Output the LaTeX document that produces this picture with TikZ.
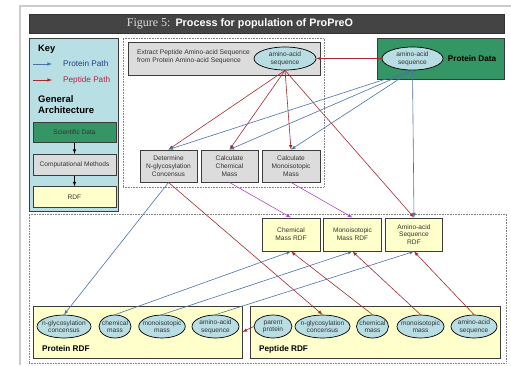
\documentclass[tikz,border=0pt]{standalone}
\usepackage{fontspec}
\setmainfont{Liberation Sans}
\newfontfamily\figserif{Liberation Serif}
\usetikzlibrary{arrows}
\usetikzlibrary{shapes}
\usetikzlibrary{positioning}
\definecolor{titlegray}{RGB}{68,68,68}
\definecolor{keyblue}{RGB}{184,224,228}
\definecolor{ellblue}{RGB}{184,222,228}
\definecolor{datagreen}{RGB}{52,150,100}
\definecolor{boxgray}{RGB}{220,220,220}
\definecolor{rdfyellow}{RGB}{255,255,204}
\definecolor{protblue}{RGB}{74,114,166}
\definecolor{peptred}{RGB}{165,40,45}
\definecolor{calcpurple}{RGB}{180,70,200}
\definecolor{edgegray}{RGB}{60,60,60}
\definecolor{labelblue}{RGB}{42,57,144}
\definecolor{labelred}{RGB}{190,30,70}

\begin{document}
\begin{tikzpicture}[x=1pt,y=-1pt]
            \tikzstyle{panel}=[draw=edgegray,line width=0.9pt,inner sep=0pt]
            \tikzstyle{dot box}=[draw=gray,densely dotted,line width=0.6pt,inner sep=0pt]
            \tikzstyle{proc node}=[panel,fill=boxgray,align=center,text=black!80,font=\fontsize{6.6}{7.8}\selectfont,minimum height=32pt]
            \tikzstyle{rdf node}=[proc node,fill=rdfyellow,minimum height=33pt]
            \tikzstyle{arch node}=[proc node,minimum width=83pt,minimum height=21pt]
            \tikzstyle{ell node}=[draw=black,ellipse,fill=ellblue,line width=0.7pt,inner sep=-3pt,align=center,text=black!80,font=\fontsize{6.6}{7.6}\selectfont,minimum height=23pt]
            \tikzstyle{bold label}=[font=\bfseries\fontsize{8.2}{10}\selectfont,inner sep=0pt]
            \tikzstyle{prot}=[draw=protblue,line width=0.6pt,-latex]
            \tikzstyle{pept}=[draw=peptred,line width=0.6pt,-latex]
            \tikzstyle{calc}=[draw=calcpurple,line width=0.6pt,-latex]

            \useasboundingbox (0,0) rectangle (511,365);
            \draw[black!20,line width=1.2pt] (20,365) -- (20,6) -- (511,6);

            % title bar
            \node[panel,fill=titlegray,draw=black!80,minimum width=475pt,minimum height=19pt] (TB) at (266.5,23.5) {};
            \node[text=white,inner sep=0pt] (TT) at (240,24) {{\figserif\fontsize{12}{12}\selectfont\color{black!12}Figure 5:}\hspace{5pt}{\bfseries\fontsize{10.8}{12}\selectfont Process for population of ProPreO}};

            % key
            \node[panel,fill=keyblue,minimum width=89pt,minimum height=173pt] (KEY) at (73.5,124.5) {};
            \node[anchor=west,font=\bfseries\fontsize{9.3}{11}\selectfont,inner sep=0pt] (KT) at (38,49) {Key};
            \coordinate (KPA) at (33,64);
            \coordinate (KPB) at (52,64);
            \coordinate (KEA) at (33,80);
            \coordinate (KEB) at (52,80);
            \draw[prot] (KPA) -- (KPB);
            \draw[pept] (KEA) -- (KEB);
            \node[anchor=west,text=labelblue,font=\fontsize{8.2}{10}\selectfont,inner sep=0pt] (KPT) at (63,64) {Protein Path};
            \node[anchor=west,text=labelred,font=\fontsize{8.2}{10}\selectfont,inner sep=0pt] (KET) at (63,80) {Peptide Path};
            \node[anchor=west,align=left,font=\bfseries\fontsize{9.5}{11}\selectfont,inner sep=0pt] (GA) at (38,104.5) {General\\Architecture};
            \node[arch node,fill=datagreen,minimum height=20pt] (SD) at (74.5,132.5) {Scientific Data};
            \node[arch node] (CM) [below=11pt of SD] {Computational Methods};
            \node[arch node,fill=rdfyellow] (RDF) [below=10.5pt of CM] {RDF};
            \draw[-latex,black,line width=0.6pt] (SD) -- (CM);
            \draw[-latex,black,line width=0.6pt] (CM) -- (RDF);

            % computation
            \node[dot box,minimum width=201pt,minimum height=149pt] (CB) at (223.5,112.5) {};
            \node[panel,fill=boxgray,minimum width=192pt,minimum height=33pt] (EX) at (224,58.5) {};
            \node[align=left,text=black!80,font=\fontsize{6.7}{7.9}\selectfont,inner sep=0pt] (EXT) at (193.5,57) {Extract Peptide Amino-acid Sequence\\from Protein Amino-acid Sequence};
            \node[ell node,minimum width=62pt] (EXA) at (285,58.5) {amino-acid\\sequence};
            \node[proc node,minimum width=57pt] (DNC) at (168.5,166) {Determine\\N-glycosylation\\Concensus};
            \node[proc node,minimum width=57pt] (CCM) at (229.5,166) {Calculate\\Chemical\\Mass};
            \node[proc node,minimum width=58pt] (CMM) at (291,166) {Calculate\\Monoisotopic\\Mass};

            % protein data
            \node[panel,fill=datagreen,minimum width=127pt,minimum height=41pt] (PD) at (440.5,58.5) {};
            \node[ell node,minimum width=61pt] (PDA) at (412.5,58.5) {amino-acid\\sequence};
            \node[bold label] (PDT) at (472,58.5) {Protein Data};

            % rdf
            \node[dot box,minimum width=477pt,minimum height=149pt] (RB) at (267.5,288.5) {};
            \node[rdf node,minimum width=58pt] (CMR) at (291,234.5) {Chemical\\Mass RDF};
            \node[rdf node,minimum width=58pt] (MMR) at (352.5,234.5) {Monoisotopic\\Mass RDF};
            \node[rdf node,minimum width=57pt] (ASR) at (414,234.5) {Amino-acid\\Sequence\\RDF};

            \node[panel,fill=rdfyellow,minimum width=209pt,minimum height=52pt] (PRR) at (137.5,332) {};
            \node[bold label,anchor=west] (PRT) at (42,349) {Protein RDF};
            \node[ell node,minimum width=54pt] (PNG) at (64,326.5) {n-glycosylation\\concensus};
            \node[ell node,minimum width=32pt] (PCM) at (115,326.5) {chemical\\mass};
            \node[ell node,minimum width=46pt] (PMM) at (162,326.5) {monoisotopic\\mass};
            \node[ell node,minimum width=47pt] (PAS) at (215.5,326.5) {amino-acid\\sequence};

            \node[panel,fill=rdfyellow,minimum width=250pt,minimum height=52pt] (PER) at (375,332) {};
            \node[bold label,anchor=west] (PET) at (259,349) {Peptide RDF};
            \node[ell node,minimum width=38pt] (EPP) at (273,326.5) {parent\\protein};
            \node[ell node,minimum width=55pt] (ENG) at (322.5,326.5) {n-glycosylation\\concensus};
            \node[ell node,minimum width=32pt] (ECM) at (372.5,326.5) {chemical\\mass};
            \node[ell node,minimum width=47pt] (EMM) at (420.5,326.5) {monoisotopic\\mass};
            \node[ell node,minimum width=46pt] (EAS) at (474,326.5) {amino-acid\\sequence};

            % peptide path
            \draw[pept] (PDA) -- (EXA);
            \draw[pept] (EXA.south) -- (DNC.north);
            \draw[pept] (EXA.south) -- (CCM.north);
            \draw[pept] (EXA.south) -- (CMM.north);
            \draw[pept] (EXA.south) -- (ASR.north);
            \draw[pept] (DNC.south) -- (ENG.north);
            \draw[pept] (ECM.north) -- (CMR.south);
            \draw[pept] (EMM.north) -- (MMR.south);
            \draw[pept] (EAS.north) -- (ASR.south);
            \draw[pept] (EPP.west) -- (PRR.east);

            % protein path
            \draw[prot] (PDA.south) -- (DNC.north);
            \draw[prot] (PDA.south) -- (CCM.north);
            \draw[prot] (PDA.south) -- (CMM.north);
            \draw[prot] (PDA.south) -- (ASR.north);
            \draw[prot] (DNC.south) -- (PNG.north);
            \draw[prot] (PCM.north) -- (CMR.south);
            \draw[prot] (PMM.north) -- (MMR.south);
            \draw[prot] (PAS.north) -- (ASR.south);

            \draw[calc] (CCM.south) -- (CMR.north);
            \draw[calc] (CMM.south) -- (MMR.north);
        \end{tikzpicture}
\end{document}
